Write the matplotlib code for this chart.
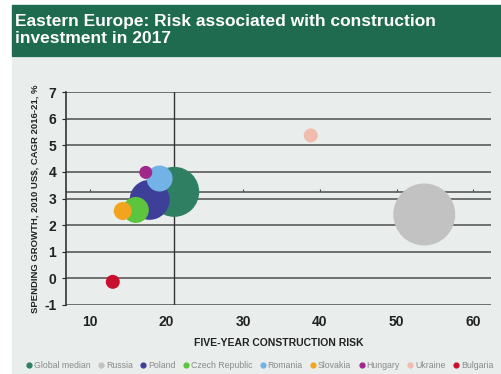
import matplotlib.pyplot as plt
from matplotlib.patches import Rectangle

plt.rcParams['font.family'] = ['Liberation Sans', 'DejaVu Sans']
plt.rcParams['axes.unicode_minus'] = False

# data
names = ["Global median", "Russia", "Poland", "Czech Republic", "Romania",
         "Slovakia", "Hungary", "Ukraine", "Bulgaria"]
risk = [21.0, 53.6, 17.8, 16.0, 19.1, 14.3, 17.3, 38.8, 13.0]
growth = [3.25, 2.4, 2.95, 2.57, 3.75, 2.53, 3.98, 5.37, -0.13]
market = [25, 31, 20, 13, 13, 9, 6.5, 7, 7]   # bubble radius, px
colors = ["#2f7f63", "#c2c2c2", "#3e3f98", "#5dc43d", "#72b2e6",
          "#f3a41e", "#a2278d", "#f1bcae", "#c8102e"]
median_x = 21.0
median_y = 3.25

fig = plt.figure(figsize=(5.01, 3.74), dpi=100)
fig.patches.append(Rectangle((12/501, 0), 1, 316/374, transform=fig.transFigure,
                             color="#e9eeec", zorder=-10))
fig.patches.append(Rectangle((12/501, 318/374), 1, 51/374, transform=fig.transFigure,
                             color="#1f6b4f", zorder=-10))
fig.text(15/501, 1 - 30/374, "Eastern Europe: Risk associated with construction\ninvestment in 2017",
         color="white", fontsize=12.5, fontweight="bold", va="center", ha="left",
         linespacing=1.1)

ax = fig.add_axes([66/501, 69/374, 425/501, 213/374])
ax.set_facecolor("none")

# draw biggest first so small bubbles sit on top
order = sorted(range(len(names)), key=lambda i: -market[i])
for k, i in enumerate(order):
    ax.scatter(risk[i], growth[i], s=(2*market[i]*0.72)**2, color=colors[i],
               edgecolors="none", zorder=5 + k)
# legend handles in the original order
for i in range(len(names)):
    ax.scatter([], [], s=12, color=colors[i], label=names[i])

ax.set_xlim(6.9, 62.3)
ax.set_ylim(-1, 7)
ax.set_yticks(range(-1, 8))
ax.set_xticks(range(10, 61, 10))
for y in range(-1, 8):
    ax.axhline(y, color="#5a5a5a", lw=1.2, zorder=1)
ax.axhline(median_y, color="#5a5a5a", lw=1.2, zorder=1)
ax.axvline(median_x, color="#333333", lw=1.0, zorder=2)
ax.plot(range(10, 61, 10), [median_y + 0.06] * 6, ls="none", marker="|",
        ms=2, mew=0.8, color="#444444", zorder=2)

for s in ["top", "right", "bottom"]:
    ax.spines[s].set_visible(False)
ax.spines["left"].set_color("#333333")
ax.spines["left"].set_linewidth(1.2)
ax.tick_params(axis="x", length=0, pad=7, labelsize=10, colors="#222222")
ax.tick_params(axis="y", length=3, pad=4, labelsize=10, colors="#222222")
for t in ax.get_xticklabels() + ax.get_yticklabels():
    t.set_fontweight("bold")

ax.set_xlabel("FIVE-YEAR CONSTRUCTION RISK", fontsize=7.5, fontweight="bold",
              color="#222222", labelpad=7)
ax.set_ylabel("SPENDING GROWTH, 2010 US$, CAGR 2016-21, %", fontsize=6.8,
              fontweight="bold", color="#222222", labelpad=3)

fig.legend(loc="center", bbox_to_anchor=(259/501, 9/374), ncol=9, frameon=False,
           fontsize=6.3, handletextpad=0.05, columnspacing=0.7, handlelength=1,
           labelcolor="#8a8a8a")

fig.savefig("out.png", dpi=100)
